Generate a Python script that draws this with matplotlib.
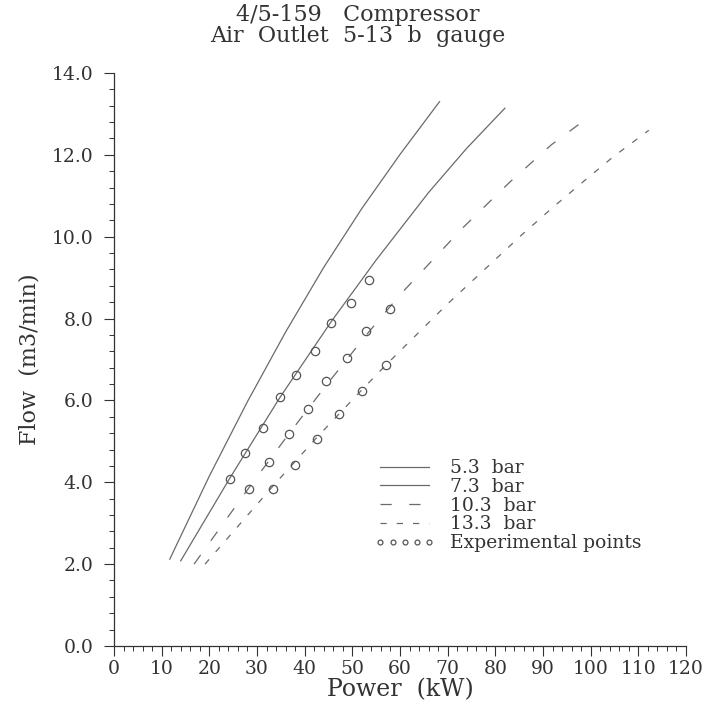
import matplotlib
matplotlib.use("Agg")
import matplotlib.pyplot as plt
from matplotlib.ticker import MultipleLocator, FormatStrFormatter

# Curves: power (kW) vs flow (m3/min)
p_53 = [11.7, 20.0, 28.0, 36.0, 44.0, 52.0, 60.0, 68.3]
q_53 = [2.12, 4.15, 5.97, 7.67, 9.25, 10.69, 12.01, 13.30]

p_73 = [14.0, 24.3, 34.8, 45.6, 55.0, 66.0, 74.0, 82.0]
q_73 = [2.08, 4.10, 6.07, 7.93, 9.43, 11.08, 12.16, 13.14]

p_103 = [16.8, 28.4, 36.8, 44.4, 52.8, 60.0, 73.2, 83.0, 91.8, 97.7]
q_103 = [2.00, 3.88, 5.20, 6.35, 7.58, 8.58, 10.22, 11.33, 12.25, 12.76]

p_133 = [19.1, 33.3, 42.6, 52.1, 57.0, 70.0, 85.5, 92.1, 98.4, 104.7, 112.2]
q_133 = [2.00, 3.90, 5.10, 6.27, 6.86, 8.36, 10.04, 10.72, 11.34, 11.95, 12.60]

# experimental points
exp_p = [24.3, 27.5, 31.3, 34.8, 38.2, 42.2, 45.6, 49.7, 53.5,
         28.4, 32.6, 36.8, 40.7, 44.4, 48.9, 52.8, 57.9,
         33.3, 38.0, 42.6, 47.2, 52.1, 57.0]
exp_q = [4.08, 4.71, 5.32, 6.09, 6.63, 7.21, 7.90, 8.37, 8.94,
         3.84, 4.49, 5.19, 5.79, 6.48, 7.03, 7.70, 8.23,
         3.84, 4.42, 5.05, 5.67, 6.23, 6.87]

plt.rcParams['font.family'] = ['DejaVu Serif']
ink = '#333333'
line_col = '#6a6a6a'

fig = plt.figure(figsize=(7.07, 7.08), dpi=100)
ax = fig.add_axes([0.1612, 0.0876, 0.8091, 0.8093])

ax.plot(p_53, q_53, color=line_col, lw=0.9, label='5.3  bar')
ax.plot(p_73, q_73, color=line_col, lw=0.9, label='7.3  bar')
ax.plot(p_103, q_103, color=line_col, lw=0.9, dashes=(9, 14), label='10.3  bar')
ax.plot(p_133, q_133, color=line_col, lw=0.9, dashes=(5, 8), label='13.3  bar')
ax.plot(exp_p, exp_q, ls='none', marker='o', ms=6, mfc='none', mec='#555555',
        mew=0.9, label='Experimental points')

ax.set_xlim(0, 120)
ax.set_ylim(0, 14)
ax.xaxis.set_major_locator(MultipleLocator(10))
ax.xaxis.set_minor_locator(MultipleLocator(2))
ax.yaxis.set_major_locator(MultipleLocator(2))
ax.yaxis.set_minor_locator(MultipleLocator(0.4))
ax.yaxis.set_major_formatter(FormatStrFormatter('%.1f'))

for s in ['top', 'right']:
    ax.spines[s].set_visible(False)
for s in ['left', 'bottom']:
    ax.spines[s].set_color(ink)
    ax.spines[s].set_linewidth(0.9)

ax.tick_params(which='major', direction='out', length=7, width=0.8, color=ink,
               labelsize=13.5, labelcolor=ink)
ax.tick_params(which='minor', direction='out', length=3.5, width=0.7, color=ink)
ax.tick_params(axis='x', pad=3)
ax.tick_params(axis='y', pad=8)

ax.set_xlabel('Power  (kW)', fontsize=17, color=ink, labelpad=0)
ax.set_ylabel('Flow  (m3/min)', fontsize=16, color=ink, labelpad=8)

# title is centred on the figure, not on the axes
fig.suptitle('4/5-159   Compressor\nAir  Outlet  5-13  b  gauge', x=0.506, y=0.995,
             fontsize=16, color=ink, linespacing=0.95)

leg = ax.legend(loc='upper left', bbox_to_anchor=(0.456, 0.326), frameon=False,
                fontsize=13.5, numpoints=5, handlelength=3.2, handletextpad=0.8,
                labelspacing=0.04, borderpad=0, borderaxespad=0)
for t in leg.get_texts():
    t.set_color(ink)
leg.legend_handles[4].set_markersize(3.5)

fig.savefig('out.png', dpi=100)
